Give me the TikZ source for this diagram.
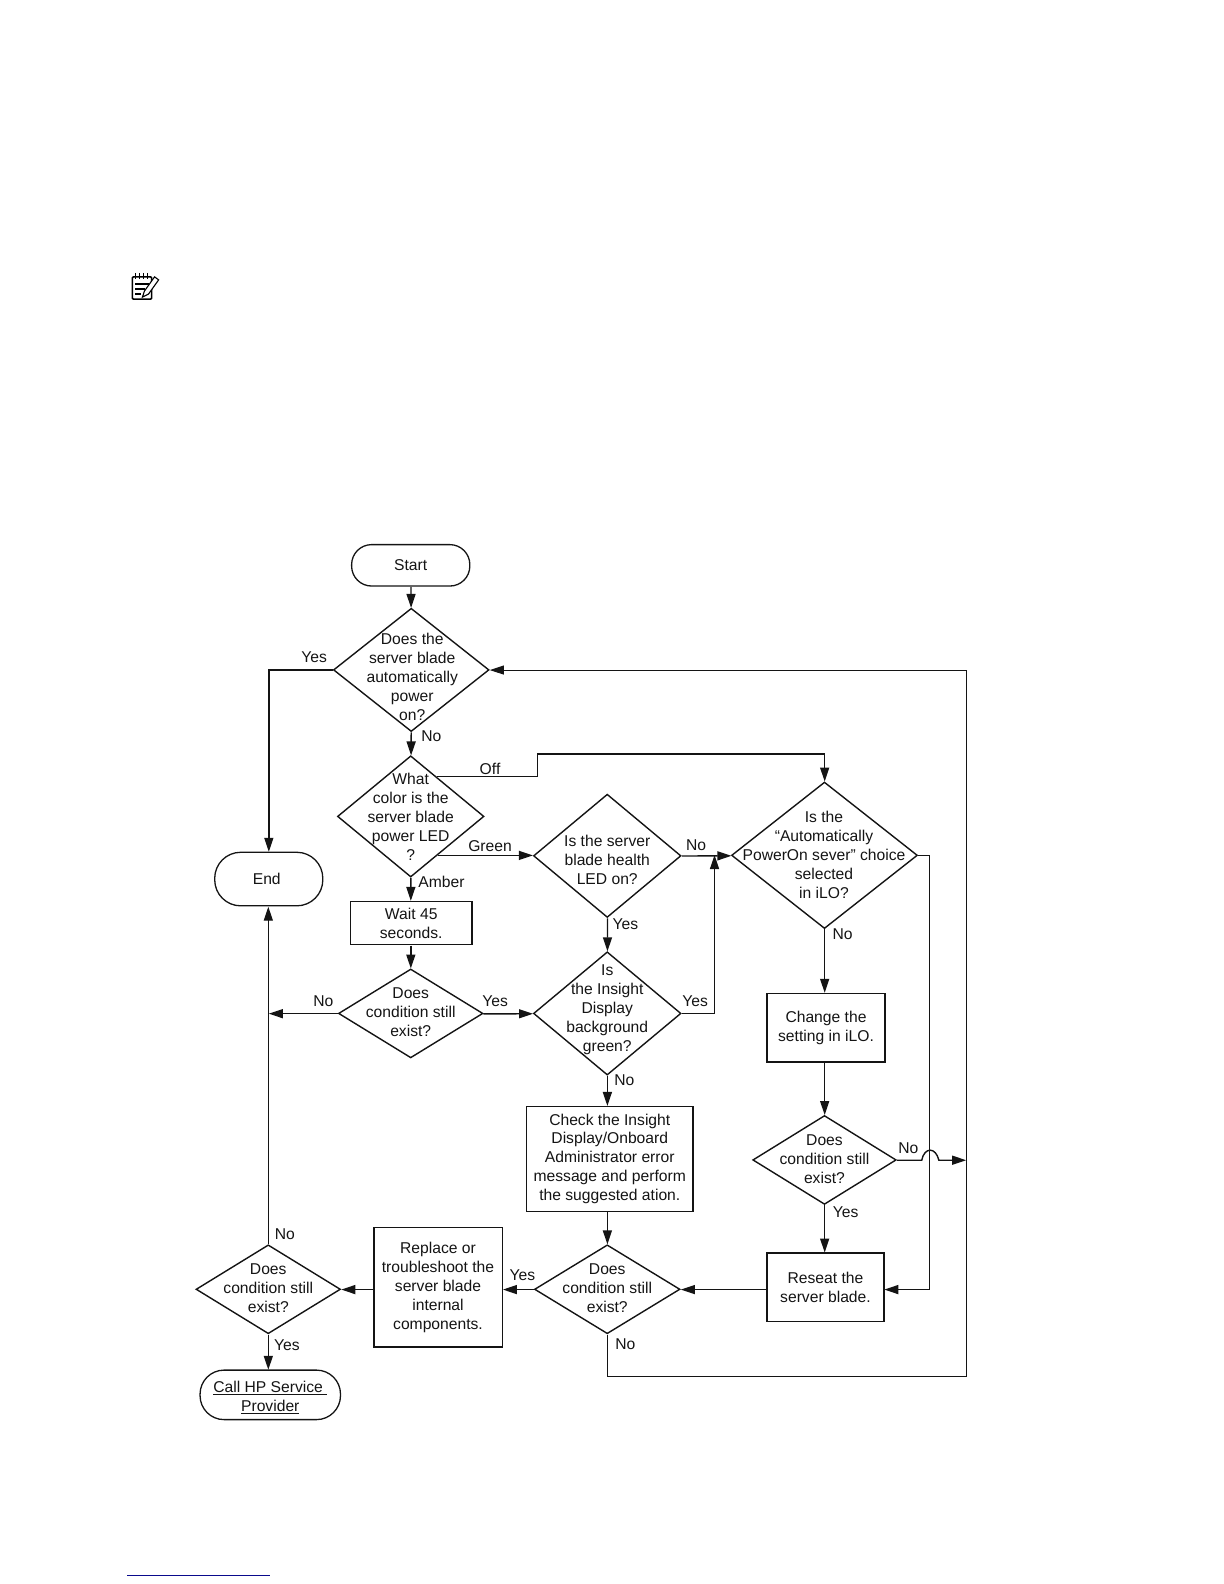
\documentclass[tikz,border=0pt]{standalone}
\usepackage{fontspec}
\setmainfont{Liberation Sans}
\usetikzlibrary{shapes.geometric,arrows.meta}
\definecolor{ink}{gray}{0.08}
\newcommand\dtxt[3]{\smash{\makebox[0pt]{\hspace*{#1pt}\raisebox{\dimexpr-5pt-#2pt\relax}{\begin{tabular}{@{}c@{}}#3\end{tabular}}}}}
\tikzset{
  every node/.style={font=\fontsize{15.5}{18.8}\selectfont,text=ink},
  dia/.style={diamond,draw=ink,line width=1.4pt,inner sep=0pt,aspect=1},
  box/.style={rectangle,draw=ink,line width=1.3pt,inner sep=0pt,align=center},
  term/.style={rectangle,draw=ink,line width=1.3pt,inner sep=0pt,align=center},
  lab/.style={inner sep=0pt},
  conn/.style={draw=ink,line width=1.4pt,-{Triangle[length=14pt,width=9pt]}},
  plain/.style={draw=ink,line width=1.4pt},
}
\begin{document}
\begin{tikzpicture}[scale=1.0104,x=1pt,y=-1pt,transform shape]
\useasboundingbox (0,0) rectangle (1211.4,1567.7);
% terminals
\node[term,rounded corners=20pt,minimum width=117pt,minimum height=41pt] (start) at (406.5,559.5) {Start};
\node[term,rounded corners=26pt,minimum width=107pt,minimum height=53pt] (end) at (266,870) {\hspace*{-4pt}End};
\node[term,rounded corners=24pt,minimum width=139pt,minimum height=49pt] (call) at (267.5,1380.5) {\rule{0pt}{16pt}\underline{Call HP Service\ }\\\underline{Provider}};
% decisions
\node[dia,minimum width=154pt,minimum height=122pt] (d1) at (407,663) {\dtxt{2}{7}{Does the\\server blade\\automatically\\power\\on?}};
\node[dia,minimum width=145pt,minimum height=120pt] (d2) at (406.5,808) {\dtxt{0}{1}{What\\color is the\\server blade\\power LED\\?}};
\node[dia,minimum width=143pt,minimum height=88pt] (d3) at (406.5,1003) {\dtxt{0}{-1}{Does\\condition still\\exist?}};
\node[dia,minimum width=146pt,minimum height=122pt] (d4) at (601,847) {\dtxt{0}{4}{Is the server\\blade health\\LED on?}};
\node[dia,minimum width=184pt,minimum height=145pt] (d5) at (816,846.5) {\dtxt{-1}{0}{Is the\\“Automatically\\PowerOn sever” choice\\selected\\in iLO?}};
\node[dia,minimum width=146pt,minimum height=122pt] (d6) at (601,1003) {\dtxt{0}{-5}{Is\\the Insight\\Display\\background\\green?}};
\node[dia,minimum width=142pt,minimum height=88pt] (d7) at (816,1148) {\dtxt{0}{-1}{Does\\condition still\\exist?}};
\node[dia,minimum width=144pt,minimum height=88pt] (d8) at (601,1276) {\dtxt{0}{-1}{Does\\condition still\\exist?}};
\node[dia,minimum width=143pt,minimum height=88pt] (d9) at (265.5,1276) {\dtxt{0}{-1}{Does\\condition still\\exist?}};
% boxes
\node[box,minimum width=120pt,minimum height=43pt] (wait) at (407,913.5) {Wait 45\\seconds.};
\node[box,minimum width=165pt,minimum height=104pt] (check) at (603.5,1147) {Check the Insight\\Display/Onboard\\Administrator error\\message and perform\\the suggested ation.};
\node[box,minimum width=117pt,minimum height=68pt] (change) at (817.5,1017) {Change the\\setting in iLO.};
\node[box,minimum width=116pt,minimum height=68pt] (reseat) at (817,1274) {Reseat the\\server blade.};
\node[box,minimum width=127pt,minimum height=118pt] (replace) at (433.5,1274) {Replace or\\troubleshoot the\\server blade\\internal\\components.};
% free corners
\coordinate (offc) at (532,746);
\coordinate (backr) at (956,663);
\coordinate (backb) at (956,1362);
\coordinate (d6up) at (707,1003);
\coordinate (d6in) at (707,846);
\coordinate (left3) at (266,1003);
\coordinate (busr) at (920,846.5);
\coordinate (b1) at (912,1148);
\coordinate (b2) at (929,1148);
\coordinate (in7) at (956,1148);
\coordinate (in6) at (875,1276);
% connectors
\draw[conn] (start) -- (d1);
\draw[conn] (d1.west) -| (end.north);
\draw[conn] (d1) -- (d2);
\draw[conn] (d2.57) -| (offc) -| (d5.north);
\draw[conn] (d2.-55) -- (d2.-55 -| d4.west);
\draw[conn] (d2) -- (d2.south |- wait.north);
\draw[conn] (wait.south -| d3.north) -- (d3.north);
\draw[conn] (d3.west) -- (left3);
\draw[conn] (d3) -- (d6);
\draw[conn] (d4) -- (d5);
\draw[conn] (d4) -- (d6);
\draw[conn] (d6.east) -- (d6up) -- (d6in);
\draw[conn] (d6.south) -- (d6.south |- check.north);
\draw[conn] (check.south -| d8.north) -- (d8.north);
\draw[conn] (d5.south) -- (d5.south |- change.north);
\draw[conn] (change.south -| d7.north) -- (d7.north);
\draw[conn] (d7.south) -- (d7.south |- reseat.north);
\draw[conn] (d5.east) -- (busr) |- (in6);
\draw[conn] (reseat.west |- d8.east) -- (d8.east);
\draw[conn] (d8.west) -- (replace.east |- d8.west);
\draw[conn] (replace.west |- d9.east) -- (d9.east);
\draw[conn] (d9.north) -- (end.south -| d9.north);
\draw[conn] (d9.south) -- (d9.south |- call.north);
\draw[conn] (d7.east) -- (b1) .. controls (915,1135) and (926,1135) .. (b2) -- (in7);
\draw[plain,line width=1pt] (d8.south) |- (backb) -- (backr);
\draw[conn,line width=1pt] (backr) -- (d1.east);
% labels
\node[lab] (l1) at (311,650) {Yes};
\node[lab] (l2) at (427,729) {No};
\node[lab] (l3) at (485,761) {Off};
\node[lab] (l4) at (485,837) {Green};
\node[lab] (l5) at (437,873) {Amber};
\node[lab] (l6) at (689,836) {No};
\node[lab] (l7) at (619,915) {Yes};
\node[lab] (l8) at (834,925) {No};
\node[lab] (l9) at (320,991) {No};
\node[lab] (l10) at (490,991) {Yes};
\node[lab] (l11) at (688,991) {Yes};
\node[lab] (l12) at (618,1069) {No};
\node[lab] (l13) at (899,1136) {No};
\node[lab] (l14) at (837,1200) {Yes};
\node[lab] (l15) at (282,1221) {No};
\node[lab] (l16) at (517,1262) {Yes};
\node[lab] (l17) at (284,1331) {Yes};
\node[lab] (l18) at (619,1330) {No};
% note icon
\draw[black,line width=1.6pt,rounded corners=1pt] (131,274) rectangle (150,296);
\draw[black,line width=1.1pt] (134,270) -- (134,276) (138,270) -- (138,276) (142,270) -- (142,276) (146,270) -- (146,276);
\draw[black,line width=1.2pt] (134,281) -- (147,281) (134,286) -- (144,286) (134,291) -- (140,291);
\draw[black,fill=white,line width=1.1pt] (141,294) -- (143,288) -- (153,274) -- (157,277) -- (147,291) -- cycle;
% footnote rule
\draw[draw={rgb,255:red,10;green,10;blue,140},line width=1.4pt] (126,1559) -- (267,1559);
\end{tikzpicture}
\end{document}
